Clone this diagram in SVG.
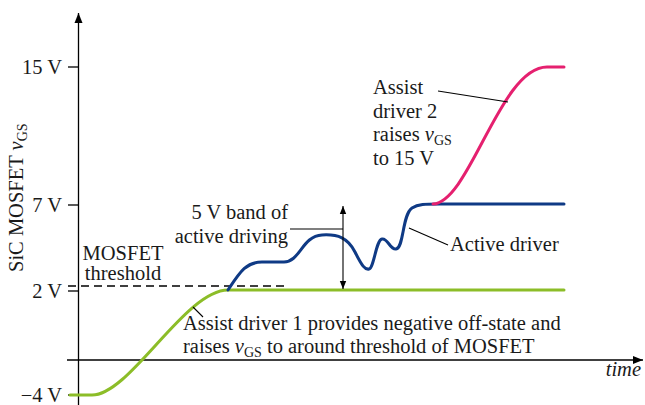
<svg xmlns="http://www.w3.org/2000/svg" width="645" height="405" viewBox="0 0 645 405">
<defs>
<marker id="ah" viewBox="0 0 10 10" refX="10" refY="5" markerWidth="10" markerHeight="10" markerUnits="userSpaceOnUse" orient="auto-start-reverse"><path d="M0,1 L10,5 L0,9 Z" fill="#000"/></marker>
<marker id="ahs" viewBox="0 0 10 10" refX="10" refY="5" markerWidth="8" markerHeight="8" markerUnits="userSpaceOnUse" orient="auto-start-reverse"><path d="M0,1 L10,5 L0,9 Z" fill="#000"/></marker>
</defs>
<style>
text{font-family:"Liberation Serif","Times New Roman",serif;font-size:20.5px;fill:#1a1a1a}
.sub{font-size:14px}
.ax{stroke:#000;stroke-width:1.3;fill:none}
.lead{stroke:#000;stroke-width:1.1;fill:none}
.curve{fill:none;stroke-width:3;stroke-linecap:round;stroke-linejoin:round}
</style>
<rect width="645" height="405" fill="#fff"/>
<g id="axes">
<line class="ax" x1="78.5" y1="405" x2="78.5" y2="13" marker-end="url(#ah)"/>
<line class="ax" x1="67" y1="360" x2="643" y2="360" marker-end="url(#ah)"/>
<line class="ax" x1="68" y1="67" x2="78" y2="67"/>
<line class="ax" x1="68" y1="205" x2="78" y2="205"/>
<line class="ax" x1="68" y1="291" x2="78" y2="291"/>
<line class="ax" x1="68" y1="395" x2="78" y2="395"/>
<text x="62" y="74" text-anchor="end">15 V</text>
<text x="62" y="212" text-anchor="end">7 V</text>
<text x="62" y="298" text-anchor="end">2 V</text>
<text x="62" y="402" text-anchor="end">−4 V</text>
<text x="641" y="376" text-anchor="end" font-style="italic">time</text>
<text transform="translate(23,272) rotate(-90)">SiC MOSFET <tspan font-style="italic">v</tspan><tspan class="sub" dy="4">GS</tspan></text>
</g>
<g id="threshold">
<line x1="68" y1="286" x2="288" y2="286" stroke="#000" stroke-width="1.3" stroke-dasharray="8,5"/>
<text x="123" y="260" text-anchor="middle">MOSFET</text>
<text x="123" y="280" text-anchor="middle">threshold</text>
</g>
<g id="assist1">
<path class="curve" stroke="#8cbd28" d="M70,395 L92,395 C130,395 185,290 228,290 L564,290"/>
</g>
<g id="active">
<path class="curve" stroke="#0f3a85" d="M228,290 C240,272 246,262 262,262 L284,262 C300,262 302,236 322,235 C338,234 348,238 355,252 C362,266 365,270 369,269 C374,268 376,240 382,239 C388,238 390,250 396,249 C404,248 402,215 412,208 C418,204 425,204 440,204 L564,204"/>
</g>
<g id="assist2">
<path class="curve" stroke="#e5206f" d="M433,204 C470,202 500,67 547,67 L564,67"/>
</g>
<g id="connectors">
<line class="lead" x1="343" y1="206" x2="343" y2="289" marker-start="url(#ahs)" marker-end="url(#ahs)"/>
<line class="lead" x1="290" y1="229" x2="343" y2="229"/>
<line class="lead" x1="409" y1="228" x2="448" y2="245"/>
<line class="lead" x1="438" y1="91" x2="508" y2="102"/>
<line class="lead" x1="193" y1="307" x2="203" y2="317"/>
</g>
<g id="labels">
<text x="288" y="219" text-anchor="end">5 V band of</text>
<text x="288" y="243" text-anchor="end">active driving</text>
<text x="450" y="251">Active driver</text>
<text x="373" y="94">Assist</text>
<text x="373" y="118">driver 2</text>
<text x="373" y="141">raises <tspan font-style="italic">v</tspan><tspan class="sub" dy="4">GS</tspan></text>
<text x="373" y="165">to 15 V</text>
<text x="183" y="330">Assist driver 1 provides negative off-state and</text>
<text x="183" y="353">raises <tspan font-style="italic">v</tspan><tspan class="sub" dy="4">GS</tspan><tspan dy="-4"> to around threshold of MOSFET</tspan></text>
</g>
</svg>
